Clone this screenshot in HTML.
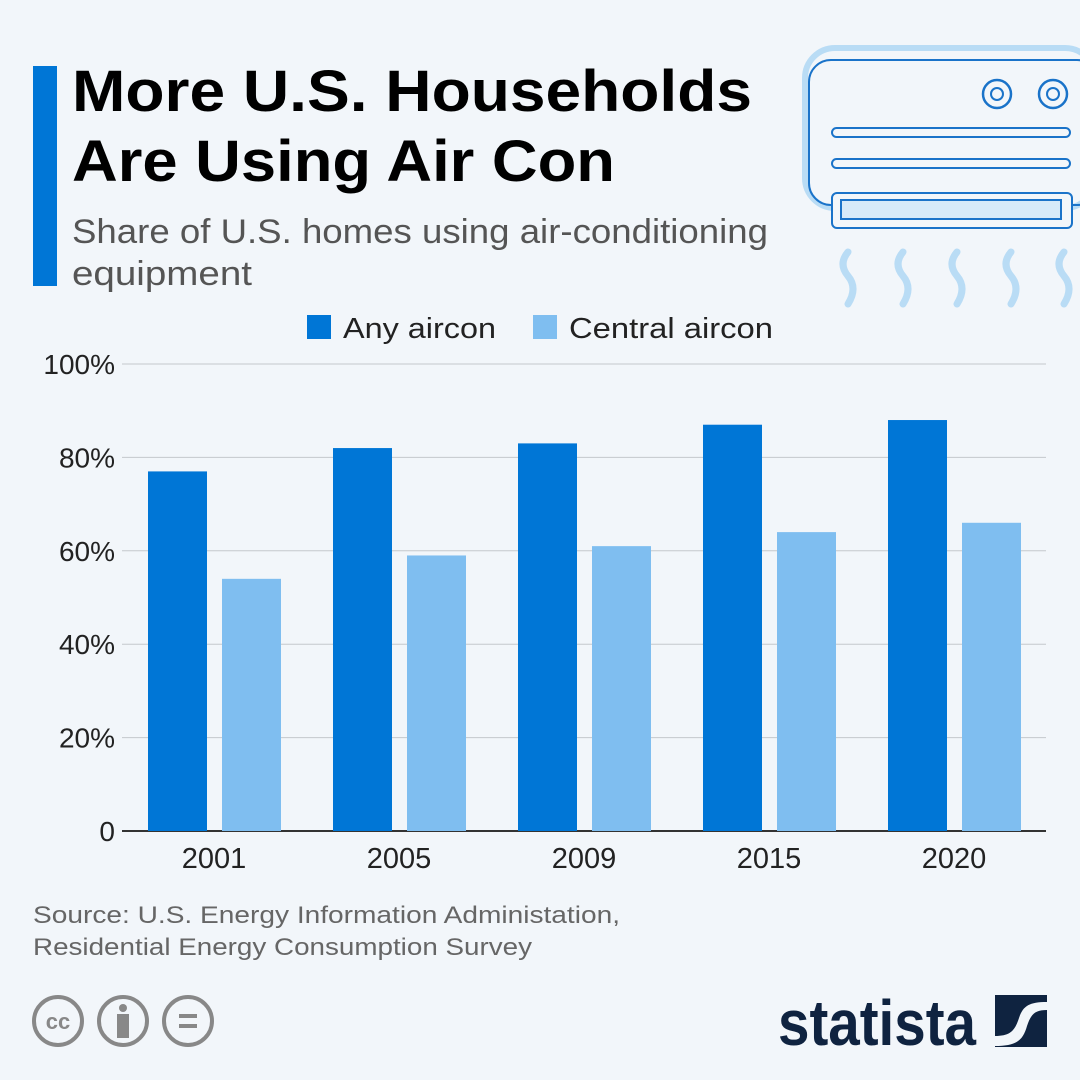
<!DOCTYPE html>
<html><head><meta charset="utf-8"><style>
body{margin:0;background:#f2f6fa}
svg{display:block;font-family:"Liberation Sans","DejaVu Sans",sans-serif}
</style></head><body>
<svg id="c" width="1080" height="1080" viewBox="0 0 1080 1080">
<rect width="1080" height="1080" fill="#f2f6fa"/>
<rect x="33" y="66" width="24" height="220" fill="#0076d6"/>
<text x="72" y="111" font-size="58" font-weight="bold" fill="#000" textLength="680" lengthAdjust="spacingAndGlyphs">More U.S. Households</text>
<text x="72" y="181" font-size="58" font-weight="bold" fill="#000" textLength="543" lengthAdjust="spacingAndGlyphs">Are Using Air Con</text>
<text x="72" y="243" font-size="34" fill="#555" textLength="696" lengthAdjust="spacingAndGlyphs">Share of U.S. homes using air-conditioning</text>
<text x="72" y="285" font-size="34" fill="#555" textLength="180" lengthAdjust="spacingAndGlyphs">equipment</text>
<g fill="none">
<rect x="805" y="48" width="290" height="160" rx="30" stroke="#b9dcf5" stroke-width="6"/>
<rect x="809" y="60" width="290" height="145" rx="22" stroke="#1a73c9" stroke-width="2"/>
<circle cx="997" cy="94" r="14" stroke="#1a73c9" stroke-width="2.5"/><circle cx="997" cy="94" r="6" stroke="#1a73c9" stroke-width="2"/>
<circle cx="1053" cy="94" r="14" stroke="#1a73c9" stroke-width="2.5"/><circle cx="1053" cy="94" r="6" stroke="#1a73c9" stroke-width="2"/>
<rect x="832" y="128" width="238" height="9" rx="4.5" stroke="#1a73c9" stroke-width="2"/>
<rect x="832" y="159" width="238" height="9" rx="4.5" stroke="#1a73c9" stroke-width="2"/>
<rect x="832" y="193" width="240" height="35" rx="5" stroke="#1a73c9" stroke-width="2" fill="#f2f6fa"/>
<rect x="841" y="200" width="220" height="19" stroke="#1a73c9" stroke-width="2" fill="#d6eaf9"/>
<g stroke="#b9dcf5" stroke-width="7" stroke-linecap="round">
<path d="M848 252 q-10 12 0 24 q10 12 0 28"/><path d="M903 252 q-10 12 0 24 q10 12 0 28"/>
<path d="M957 252 q-10 12 0 24 q10 12 0 28"/><path d="M1011 252 q-10 12 0 24 q10 12 0 28"/>
<path d="M1064 252 q-10 12 0 24 q10 12 0 28"/></g>
</g>
<rect x="307" y="315" width="24" height="24" fill="#0076d6"/>
<text x="343" y="338" font-size="29" fill="#222" textLength="153" lengthAdjust="spacingAndGlyphs">Any aircon</text>
<rect x="533" y="315" width="24" height="24" fill="#7fbef0"/>
<text x="569" y="338" font-size="29" fill="#222" textLength="204" lengthAdjust="spacingAndGlyphs">Central aircon</text>
<g id="grid"></g><g id="bars"></g><g id="xl"></g>
<text x="33" y="923" font-size="24" fill="#666" textLength="587" lengthAdjust="spacingAndGlyphs">Source: U.S. Energy Information Administation,</text>
<text x="33" y="955" font-size="24" fill="#666" textLength="499" lengthAdjust="spacingAndGlyphs">Residential Energy Consumption Survey</text>
<g stroke="#888" stroke-width="4" fill="none">
<circle cx="58" cy="1021" r="24"/><circle cx="123" cy="1021" r="24"/><circle cx="188" cy="1021" r="24"/>
<text x="58" y="1029" font-size="22" font-weight="bold" fill="#888" stroke="none" text-anchor="middle">cc</text>
<circle cx="123" cy="1008" r="4" fill="#888" stroke="none"/><rect x="117" y="1014" width="12" height="24" fill="#888" stroke="none"/>
<line x1="179" y1="1016" x2="197" y2="1016"/><line x1="179" y1="1026" x2="197" y2="1026"/>
</g>
<text x="778" y="1045" font-size="64" font-weight="bold" fill="#0f2340" textLength="198" lengthAdjust="spacingAndGlyphs">statista</text>
<g>
<rect x="995" y="995" width="52" height="52" fill="#0f2340"/>
<path d="M995 1036 c16 0 20 -6 24 -18 c4 -12 10 -16 28 -16 v8 c-12 0 -16 4 -20 16 c-4 14 -10 20 -32 20 z" fill="#f2f6fa"/>
</g>
</svg>
<script>
const years=["2001","2005","2009","2015","2020"];
const anyAircon=[77,82,83,87,88];
const centralAircon=[54,59,61,64,66];
const ticks=[0,20,40,60,80,100];
const tickLabels=["0","20%","40%","60%","80%","100%"];
const NS="http://www.w3.org/2000/svg";
const y=v=>831-v*4.67;
const gx=i=>148+i*185;
function mk(t,a,p){const e=document.createElementNS(NS,t);for(const k in a)e.setAttribute(k,a[k]);p.appendChild(e);return e;}
const grid=document.getElementById('grid'),bars=document.getElementById('bars'),xl=document.getElementById('xl');
ticks.forEach((t,i)=>{
 const l=mk('line',{x1:122,x2:1046,y1:y(t),y2:y(t),stroke:t===0?'#333':'#c4c8cc','stroke-width':t===0?2:1},grid);
 
 
 const tx=mk('text',{x:115,y:y(t)+10,'font-size':28,fill:'#222','text-anchor':'end'},grid);
 tx.textContent=tickLabels[i];
 
 
});
years.forEach((yr,i)=>{
 const a=mk('rect',{x:gx(i),y:y(anyAircon[i]),width:59,height:y(0)-y(anyAircon[i]),fill:'#0076d6'},bars);
 
 
 const c=mk('rect',{x:gx(i)+74,y:y(centralAircon[i]),width:59,height:y(0)-y(centralAircon[i]),fill:'#7fbef0'},bars);
 
 
 const t=mk('text',{x:gx(i)+66,y:868,'font-size':29,fill:'#222','text-anchor':'middle'},xl);
 t.textContent=yr;
 
 
});
</script>
</body></html>
